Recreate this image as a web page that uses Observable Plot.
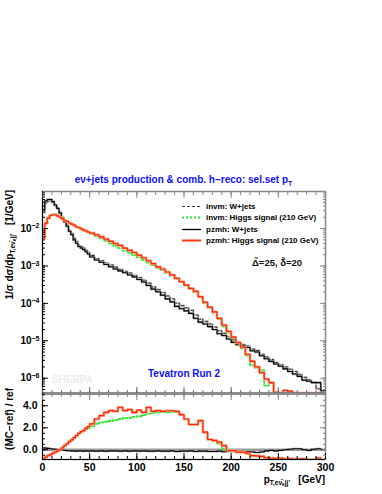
<!DOCTYPE html>
<html><head><meta charset="utf-8">
<script src="https://cdn.jsdelivr.net/npm/d3@7"></script>
<script src="https://cdn.jsdelivr.net/npm/@observablehq/plot@0.6"></script>
<style>
body{margin:0;background:#fff;}
#wrap{position:relative;width:382px;height:494px;overflow:hidden;font-family:'Liberation Sans',Arial,Helvetica,sans-serif;font-weight:bold;background:#fff;}
#wrap svg{position:absolute;left:0;top:0;}
.lbl{position:absolute;white-space:nowrap;}
.lbl sub{font-size:6.5px;vertical-align:-2px;line-height:0;}
.lbl sub sub{font-size:5px;vertical-align:-1px;}
</style></head><body><div id="wrap"></div>
<script>
// ---- data ----
const edges = [0,2.5,5,7.5,10,12.5,15,17.5,20,22.5,25,27.5,30,32.5,35,37.5,40,42.5,45,47.5,50,
  55,60,65,70,75,80,85,90,95,100,105,110,115,120,125,130,135,140,145,150,155,160,165,170,175,180,185,190,195,200,
  205,210,215,220,225,230,235,240,245,250,255,260,265,270,275,280,285,290,295,300];

const invmWjets = [2.69e-2,4.79e-2,5.4e-2,5.5e-2,4.9e-2,4.07e-2,3.47e-2,2.69e-2,2.04e-2,1.62e-2,1.23e-2,9.1e-3,7.6e-3,5.5e-3,4.47e-3,3.63e-3,3.31e-3,3.02e-3,2.63e-3,2.29e-3,
  1.91e-3,1.58e-3,1.38e-3,1.2e-3,1.07e-3,9.3e-4,8.1e-4,7.2e-4,6.5e-4,5.6e-4,
  4.9e-4,4.17e-4,3.47e-4,2.75e-4,2.34e-4,1.95e-4,1.58e-4,1.32e-4,1.02e-4,8.7e-5,
  7.6e-5,6.5e-5,4.9e-5,3.8e-5,3.31e-5,2.82e-5,2.34e-5,1.86e-5,1.58e-5,1.29e-5,
  1.05e-5,9.1e-6,7.9e-6,7.2e-6,6.0e-6,5.5e-6,4.37e-6,3.72e-6,3.16e-6,2.63e-6,
  2.29e-6,2.0e-6,1.74e-6,1.51e-6,1.26e-6,1.05e-6,9.1e-7,7.9e-7,5.2e-7,4.4e-7];

const invmHiggs = [5.6e-3,1.38e-2,1.95e-2,2.29e-2,2.4e-2,2.4e-2,2.24e-2,2.04e-2,1.86e-2,1.7e-2,1.58e-2,1.41e-2,1.32e-2,1.23e-2,1.12e-2,1.05e-2,9.6e-3,8.9e-3,8.5e-3,7.9e-3,
  7.2e-3,6.3e-3,5.5e-3,4.68e-3,3.98e-3,3.47e-3,3.02e-3,2.57e-3,2.24e-3,1.95e-3,
  1.7e-3,1.45e-3,1.23e-3,1.05e-3,8.9e-4,7.8e-4,6.6e-4,5.5e-4,4.57e-4,3.72e-4,
  3.02e-4,2.45e-4,2.0e-4,1.45e-4,1.02e-4,7.6e-5,5.6e-5,3.8e-5,2.4e-5,1.66e-5,
  1.17e-5,8.3e-6,6.3e-6,4.0e-6,2.24e-6,1.91e-6,1.66e-6,6.3e-7,7.6e-7,4.0e-7,
  4.0e-7,4.0e-7,4.0e-7,4.0e-7,4.0e-7,4.0e-7,4.0e-7,4.0e-7,4.0e-7,4.0e-7];

const pzmhWjets = [3.24e-2,5.5e-2,6.0e-2,6.0e-2,5.25e-2,4.27e-2,3.47e-2,2.63e-2,1.95e-2,1.51e-2,1.15e-2,8.5e-3,6.9e-3,5.0e-3,4.07e-3,3.31e-3,3.02e-3,2.75e-3,2.4e-3,2.09e-3,
  1.74e-3,1.45e-3,1.26e-3,1.1e-3,9.5e-4,8.3e-4,7.4e-4,6.6e-4,5.75e-4,5.1e-4,
  4.37e-4,3.72e-4,3.02e-4,2.4e-4,2.04e-4,1.66e-4,1.32e-4,1.1e-4,8.3e-5,7.2e-5,
  6.3e-5,5.4e-5,4.0e-5,3.16e-5,2.82e-5,2.4e-5,2.0e-5,1.55e-5,1.38e-5,1.12e-5,
  9.1e-6,7.9e-6,7.4e-6,6.6e-6,5.4e-6,5.0e-6,4.0e-6,3.31e-6,2.82e-6,2.4e-6,
  2.09e-6,1.78e-6,1.51e-6,1.29e-6,1.12e-6,8.9e-7,8.3e-7,7.6e-7,7.6e-7,4.6e-7];

const pzmhHiggs = [5.6e-3,1.38e-2,1.9e-2,2.24e-2,2.34e-2,2.34e-2,2.19e-2,2.0e-2,1.82e-2,1.66e-2,1.55e-2,1.41e-2,1.32e-2,1.23e-2,1.12e-2,1.07e-2,9.8e-3,9.1e-3,8.7e-3,8.1e-3,
  7.6e-3,6.8e-3,6.0e-3,5.25e-3,4.57e-3,3.98e-3,3.55e-3,3.02e-3,2.63e-3,2.29e-3,
  1.95e-3,1.66e-3,1.38e-3,1.15e-3,9.5e-4,8.3e-4,6.9e-4,5.75e-4,4.68e-4,3.8e-4,
  3.09e-4,2.51e-4,2.09e-4,1.51e-4,1.07e-4,7.9e-5,5.9e-5,4.0e-5,2.63e-5,1.78e-5,
  1.26e-5,8.9e-6,6.8e-6,4.37e-6,2.82e-6,2.0e-6,1.41e-6,9.5e-7,7.6e-7,4.2e-7,
  4.0e-7,4.7e-7,4.5e-7,4.0e-7,4.0e-7,4.0e-7,4.0e-7,4.0e-7,4.0e-7,4.0e-7];

// (MC-ref)/ref, ref = invm: W+jets
const ratioPzmhWjets = [0.18,0.15,0.13,0.1,0.07,0.05,0.02,0.0,-0.03,-0.05,-0.07,-0.08,-0.1,-0.1,-0.12,-0.1,-0.1,-0.12,-0.1,-0.12,
  -0.1,-0.12,-0.1,-0.12,-0.1,-0.1,-0.12,-0.1,-0.12,-0.1,
  -0.12,-0.1,-0.12,-0.12,-0.1,-0.12,-0.12,-0.1,-0.15,-0.12,
  -0.12,-0.1,-0.15,-0.12,-0.12,-0.15,-0.15,-0.12,-0.18,-0.15,
  -0.15,-0.2,-0.2,-0.15,-0.2,-0.25,-0.2,-0.1,-0.05,-0.1,
  -0.05,0.0,0.05,0.1,0.1,0.0,-0.05,0.05,0.1,0.0];

const ratioInvmHiggs = [-0.82,-0.67,-0.5,-0.4,-0.28,-0.18,-0.08,0.05,0.2,0.4,0.58,0.78,0.95,1.12,1.3,1.45,1.6,1.7,1.85,1.95,
  2.15,2.35,2.5,2.55,2.62,2.7,2.8,2.9,2.9,3.0,
  3.05,3.15,3.3,3.35,3.4,3.45,3.4,3.45,3.45,3.15,
  2.75,2.3,2.3,2.6,1.55,0.95,0.8,0.55,0.05,0.0,
  -0.1,-0.2,-0.25,-0.35,-0.55,-0.6,-0.62,-0.8,-0.72,-0.85,
  -0.8,-0.85,-0.82,-0.85,-0.82,-0.85,-0.9,-0.9,-0.8,-0.9];

const ratioPzmhHiggs = [-0.82,-0.67,-0.52,-0.43,-0.3,-0.21,-0.1,0.0,0.18,0.39,0.55,0.75,0.9,1.1,1.3,1.5,1.65,1.75,1.95,2.1,
  2.36,2.8,3.1,3.4,3.57,3.5,3.87,3.57,3.65,3.4,
  3.6,3.4,3.85,3.5,3.57,3.5,3.55,3.55,3.5,3.2,
  2.8,2.3,2.3,2.66,1.6,0.94,0.85,0.7,0.39,-0.06,
  -0.06,-0.21,-0.21,-0.3,-0.52,-0.55,-0.6,-0.73,-0.75,-0.78,
  -0.75,-0.82,-0.8,-0.85,-0.83,-0.82,-0.9,-0.88,-0.75,-0.9];

const xMajor = [0,50,100,150,200,250,300];
const xMinor = d3.range(0,301,10);
const yMajor = [1e-6,1e-5,1e-4,1e-3,1e-2];
const rMajor = [0,2,4];
const rMinor = d3.range(-0.5,5.01,0.5);
const legendLabels = ["invm: W+jets","invm: Higgs signal (210 GeV)","pzmh: W+jets","pzmh: Higgs signal (210 GeV)"];

// ---- helpers ----
const FONT = "'Liberation Sans', Arial, Helvetica, sans-serif";
const yDomain = [3.9e-7, 0.098];
const rDomain = [-0.88, 5.12];
const yMinor = d3.scaleLog().domain(yDomain).ticks();
function hist(vals){
  const p = vals.map((v,i)=>({x:edges[i], y:v}));
  p.push({x:edges[vals.length], y:vals[vals.length-1]});
  return p;
}
const L = (vals, o) => Plot.line(hist(vals), {x:"x", y:"y", curve:"step-after", clip:true, ...o});
const svgStyle = {fontFamily:FONT, fontSize:"10px", fontWeight:"bold", background:"transparent", overflow:"visible"};
const noTxt = () => "";

// ---- main panel ----
const main = Plot.plot({
  width:382, height:394, marginTop:191, marginBottom:1, marginLeft:42, marginRight:57,
  style:svgStyle,
  x:{domain:[0,300]},
  y:{type:"log", domain:yDomain},
  marks:[
    L(invmWjets,{stroke:"#bdbdbd", strokeWidth:2.2, strokeDasharray:"3,2"}),
    L(invmWjets,{stroke:"#333", strokeWidth:1, strokeDasharray:"3,2"}),
    L(pzmhWjets,{stroke:"#a8a8a8", strokeWidth:2.2}),
    L(pzmhWjets,{stroke:"#000", strokeWidth:1.1}),
    L(invmHiggs,{stroke:"#2ee82e", strokeWidth:1.8, strokeDasharray:"2,2"}),
    L(pzmhHiggs,{stroke:"#ffa08a", strokeWidth:2.6}),
    L(pzmhHiggs,{stroke:"#ff2a00", strokeWidth:1.2}),
    Plot.frame({stroke:"#888", strokeWidth:1.5}),
    Plot.ruleY([yDomain[0]],{stroke:"#777", strokeWidth:2.5}),
    Plot.ruleX([0],{stroke:"#000", strokeWidth:1}),
    Plot.axisX({anchor:"top", ticks:xMajor, tickSize:6, dy:6, tickFormat:noTxt, label:null, stroke:"#888"}),
    Plot.axisX({anchor:"top", ticks:xMinor, tickSize:3, dy:3, tickFormat:noTxt, label:null, stroke:"#888"}),
    Plot.axisX({anchor:"bottom", ticks:xMajor, tickSize:6, dy:-6, tickFormat:noTxt, label:null, stroke:"#666"}),
    Plot.axisX({anchor:"bottom", ticks:xMinor, tickSize:3, dy:-3, tickFormat:noTxt, label:null, stroke:"#666"}),
    Plot.axisY({anchor:"left", ticks:yMajor, tickSize:6, dx:6, tickFormat:noTxt, label:null, stroke:"#000"}),
    Plot.axisY({anchor:"left", ticks:yMinor, tickSize:3, dx:3, tickFormat:noTxt, label:null, stroke:"#000"}),
    Plot.axisY({anchor:"right", ticks:yMajor, tickSize:6, dx:-6, tickFormat:noTxt, label:null, stroke:"#888"}),
    Plot.axisY({anchor:"right", ticks:yMinor, tickSize:3, dx:-3, tickFormat:noTxt, label:null, stroke:"#888"}),
    Plot.axisY({anchor:"left", ticks:yMajor, tickSize:0, tickPadding:3, label:null,
      tickFormat:d=>"10^"+Math.round(Math.log10(d)), fill:"#000", fontSize:10})
  ]
});

// ---- ratio panel ----
const ratio = Plot.plot({
  width:382, height:494, marginTop:393, marginBottom:35, marginLeft:42, marginRight:57,
  style:svgStyle,
  x:{domain:[0,300]},
  y:{domain:rDomain},
  marks:[
    Plot.ruleY([0],{stroke:"#9a9a9a", strokeWidth:2.5}),
    L(ratioPzmhWjets,{stroke:"#a8a8a8", strokeWidth:2}),
    L(ratioPzmhWjets,{stroke:"#000", strokeWidth:1.1}),
    L(ratioInvmHiggs,{stroke:"#2ee82e", strokeWidth:1.8, strokeDasharray:"2,2"}),
    L(ratioPzmhHiggs,{stroke:"#ffa08a", strokeWidth:2.6}),
    L(ratioPzmhHiggs,{stroke:"#ff2a00", strokeWidth:1.2}),
    Plot.frame({stroke:"#888", strokeWidth:1.5}),
    Plot.ruleX([0],{stroke:"#000", strokeWidth:1}),
    Plot.ruleY([rDomain[0]],{stroke:"#000", strokeWidth:1}),
    Plot.axisX({anchor:"bottom", ticks:xMajor, tickSize:6, dy:-6, tickFormat:noTxt, label:null, stroke:"#000"}),
    Plot.axisX({anchor:"bottom", ticks:xMinor, tickSize:3, dy:-3, tickFormat:noTxt, label:null, stroke:"#000"}),
    Plot.axisX({anchor:"top", ticks:xMajor, tickSize:6, dy:6, tickFormat:noTxt, label:null, stroke:"#888"}),
    Plot.axisX({anchor:"top", ticks:xMinor, tickSize:3, dy:3, tickFormat:noTxt, label:null, stroke:"#888"}),
    Plot.axisY({anchor:"left", ticks:rMajor, tickSize:6, dx:6, tickFormat:noTxt, label:null, stroke:"#000"}),
    Plot.axisY({anchor:"left", ticks:rMinor, tickSize:3, dx:3, tickFormat:noTxt, label:null, stroke:"#000"}),
    Plot.axisY({anchor:"right", ticks:rMajor, tickSize:6, dx:-6, tickFormat:noTxt, label:null, stroke:"#888"}),
    Plot.axisY({anchor:"right", ticks:rMinor, tickSize:3, dx:-3, tickFormat:noTxt, label:null, stroke:"#888"}),
    Plot.axisX({anchor:"bottom", ticks:xMajor, tickSize:0, tickPadding:4, label:null, fill:"#000", fontSize:10.5}),
    Plot.axisY({anchor:"left", ticks:rMajor, tickSize:0, tickPadding:5, label:null, fill:"#000", fontSize:10.5})
  ]
});

const wrap = document.getElementById("wrap");
wrap.appendChild(main);
wrap.appendChild(ratio);

// superscript exponents on the log axis labels
d3.select(main).selectAll('g[aria-label="y-axis tick label"] text').each(function(){
  const t = this.textContent;
  if (!t.startsWith("10^")) return;
  const e = t.slice(3).replace("-","\u2212");
  const sel = d3.select(this);
  sel.text("10");
  sel.append("tspan").attr("dy","-0.5em").attr("font-size","7px").text(e);
});

// ---- text & legend (HTML) ----
function addLbl(html, css){
  const d = document.createElement("div");
  d.className = "lbl"; d.innerHTML = html; d.style.cssText = css; wrap.appendChild(d);
  return d;
}
addLbl('eν+jets production &amp; comb. h\u2212reco: sel.set p<sub style="font-size:7px;vertical-align:-3px">T</sub>',
  "left:42px;top:173px;width:283px;text-align:center;font-size:10px;line-height:13px;color:#1010ff;");
addLbl("1/σ dσ/dp<sub>T,eν̄<sub>e</sub>jj'</sub>&nbsp;&nbsp;&nbsp;[1/GeV]",
  "left:3px;top:400px;width:210px;text-align:right;transform:rotate(-90deg);transform-origin:0 0;font-size:10px;line-height:13px;color:#000;");
addLbl("(MC\u2212ref) / ref",
  "left:3px;top:470px;width:82px;text-align:right;transform:rotate(-90deg);transform-origin:0 0;font-size:10px;line-height:13px;color:#000;");
addLbl("p<sub>T,eν̄<sub>e</sub>jj'</sub>&nbsp;&nbsp;&nbsp;[GeV]",
  "right:57px;top:473px;font-size:10px;line-height:13px;color:#000;");
addLbl("Δ\u0303=25, δ\u0303=20", "left:252px;top:256px;font-size:9.5px;line-height:13px;color:#111;");
addLbl("Tevatron Run 2", "left:148px;top:367px;font-size:10px;line-height:13px;color:#1010ff;");
addLbl("SHERPA", "left:52px;top:373px;font-size:10px;line-height:13px;color:#ececec;");

const legendStyle = [
  {stroke:"#333", dash:"3,2", w:1.2},
  {stroke:"#2ee82e", dash:"2,2", w:2},
  {stroke:"#000", dash:null, w:1.3},
  {stroke:"#ff3a10", dash:null, w:2}
];
legendLabels.forEach((lab,i)=>{
  const s = legendStyle[i];
  const top = 200.5 + i*11.5;
  const d = addLbl(
    `<svg width="20" height="11" style="position:static;vertical-align:middle;margin-right:4px;overflow:visible"><line x1="0" x2="19" y1="5.5" y2="5.5" stroke="${s.stroke}" stroke-width="${s.w}" ${s.dash?`stroke-dasharray="${s.dash}"`:""}/></svg><span style="vertical-align:middle">${lab}</span>`,
    `left:182px;top:${top}px;font-size:8px;line-height:11px;color:#000;`);
});
</script></body></html>
